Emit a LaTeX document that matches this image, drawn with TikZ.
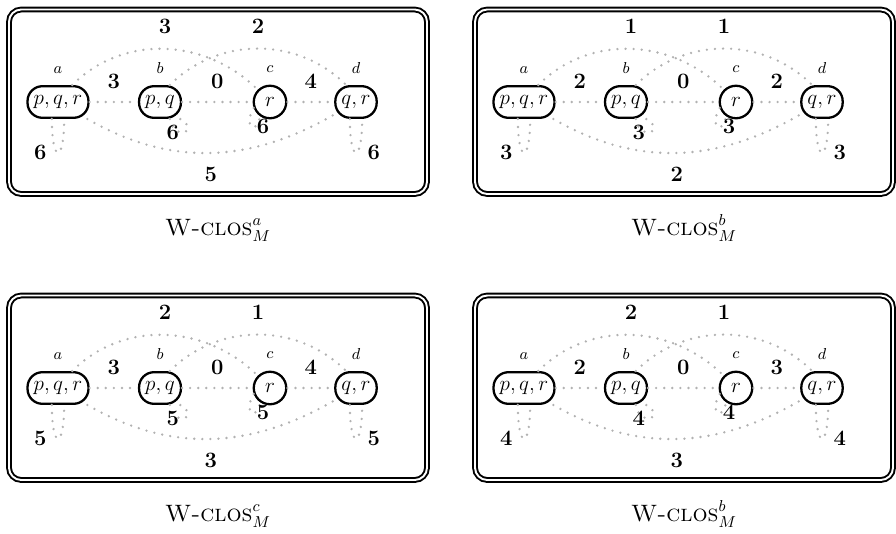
\documentclass[tikz,border=0pt]{standalone}
\begin{document}
\begin{tikzpicture}[x=0.02cm, y=0.02cm,
        stato/.style={rectangle, rounded corners=8.5pt, draw, line width=1.3pt, minimum height=18pt, inner xsep=3.5pt, inner ysep=0pt, font=\fontsize{12.5}{14}\selectfont},
        singolo/.style={circle, draw, line width=1.3pt, minimum size=18.5pt, inner sep=0pt, font=\fontsize{12.5}{14}\selectfont},
        nome/.style={font=\small, inner sep=1pt, label distance=5.5pt},
        arco/.style={draw=gray!60, line width=1.5pt, line cap=round, dash pattern=on 0pt off 4.6pt},
        peso/.style={font=\fontsize{12.5}{14}\selectfont\bfseries},
        cornice/.style={draw, line width=1.1pt, double, double distance=1.1pt, rounded corners=7pt},
        titolo/.style={font=\fontsize{13.5}{15}\selectfont, anchor=base}]

    %quattro grafi pesati, ognuno nella sua cornice
    \useasboundingbox (0,0) rectangle (896,-534);
    \foreach \dx/\dy/\k/\wac/\wbd/\wab/\wcd/\wl/\wad/\apice in
        {0/0/1/3/2/3/4/6/5/a, 466/0/2/1/1/2/2/3/2/b, 0/-286/3/2/1/3/4/5/3/c, 466/-286/4/2/1/2/3/4/3/b}
    {
    \begin{scope}[shift={(\dx,\dy)}]
        \draw[cornice] (9,-9.5) rectangle (427,-194);

        \node[stato, label={[nome]above:$a$}] (a\k) at (58,-102) {$p,q,r$};
        \node[stato, label={[nome]above:$b$}] (b\k) at (160,-102) {$p,q$};
        \node[singolo, label={[nome]above:$c$}] (c\k) at (270,-102) {$r$};
        \node[stato, label={[nome]above:$d$}] (d\k) at (356,-102) {$q,r$};

        \draw[arco] (a\k) -- node[peso, above=3.5pt] {\wab} (b\k);
        \draw[arco] (b\k) -- node[peso, above=3.5pt] {0} (c\k);
        \draw[arco] (c\k) -- node[peso, above=3.5pt] {\wcd} (d\k);
        \draw[arco] (a\k.50) to[out=45, in=135] node[peso, above=4.5pt] {\wac} (c\k.135);
        \draw[arco] (b\k.60) to[out=45, in=135] node[peso, above=4.5pt] {\wbd} (d\k.120);
        \draw[arco] (a\k.-30) to[out=-30, in=-150] node[peso, below=4pt] {\wad} (d\k.-150);
        \draw[arco] (a\k.-110) .. controls +(0,-45) and +(0,-45) .. node[peso, left=2.5pt] {\wl} (a\k.-70);
        \draw[arco] (b\k.-60) .. controls +(-80:24) and +(-30:24) .. node[peso, left=-1pt] {\wl} (b\k.-40);
        \draw[arco] (c\k.-160) .. controls +(-120:22) and +(-100:20) .. node[peso, right=-1pt] {\wl} (c\k.-125);
        \draw[arco] (d\k.-110) .. controls +(0,-45) and +(0,-45) .. node[peso, right=2.5pt] {\wl} (d\k.-70);

        \node[titolo] (t\k) at (218,-235) {\textsc{W-clos}$^{\apice}_{M}$};
    \end{scope}
    }
\end{tikzpicture}
\end{document}
